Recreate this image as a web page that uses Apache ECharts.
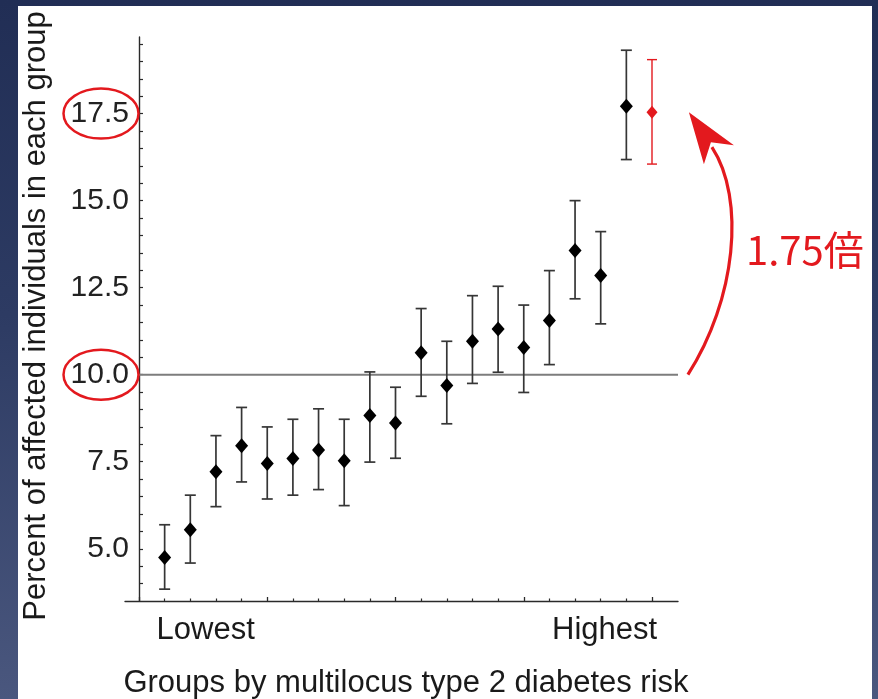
<!DOCTYPE html>
<html>
<head>
<meta charset="utf-8">
<script src="https://cdn.jsdelivr.net/npm/echarts@6/dist/echarts.min.js"></script>
<style>
  html, body { margin: 0; padding: 0; }
  #wrap { position: relative; width: 878px; height: 699px; overflow: hidden;
          background: linear-gradient(to bottom, #212e55 0%, #2d3b63 45%, #4a577e 100%); }
  #panel { position: absolute; left: 18px; top: 6px; width: 854px; height: 693px; background: #ffffff; }
  #c { position: absolute; left: 0; top: 0; width: 878px; height: 699px; }
</style>
</head>
<body>
<div id="wrap"><div id="panel"></div><div id="c"></div></div>
<script>
// ---- data ----
const groups = [1, 2, 3, 4, 5, 6, 7, 8, 9, 10, 11, 12, 13, 14, 15, 16, 17, 18, 19, 20];
const means  = [4.75, 5.55, 7.21, 7.96, 7.45, 7.59, 7.84, 7.53, 8.83, 8.61, 10.63, 9.69, 10.96, 11.31, 10.78, 11.56, 13.57, 12.85, 17.71, 17.54];
const lower  = [3.84, 4.59, 6.21, 6.92, 6.43, 6.54, 6.70, 6.24, 7.49, 7.60, 9.38, 8.59, 9.75, 10.07, 9.49, 10.29, 12.18, 11.46, 16.18, 16.05];
const upper  = [5.69, 6.54, 8.25, 9.06, 8.50, 8.72, 9.02, 8.72, 10.08, 9.64, 11.90, 10.96, 12.27, 12.54, 12.00, 12.99, 15.00, 14.11, 19.32, 19.05];
const highlightGroup = 20;
const refLevel = 10;
const circledTicks = [17.5, 10.0];
const endLabels = ['Lowest', 'Highest'];
const xTitle = 'Groups by multilocus type 2 diabetes risk';
const yTitle = 'Percent of affected individuals in each group';
const ratioLabel = '1.75倍';

const RED = '#e3191e';
const BAR = '#363636';
const FONT = 'Liberation Sans, Arial, sans-serif';

const chart = echarts.init(document.getElementById('c'), null, { renderer: 'canvas' });

const errData = groups.map((g, i) => [g, lower[i], upper[i], g === highlightGroup ? 1 : 0]);
const ptData = groups.map((g, i) => ({
  value: [g, means[i]],
  itemStyle: { color: g === highlightGroup ? RED : '#000000', opacity: 1 }
}));

const option = {
  animation: false,
  backgroundColor: 'transparent',
  grid: [
    { left: 125, right: 200, top: 37, bottom: 98 },
    { left: 139, right: 226, top: 37, bottom: 98 }
  ],
  xAxis: [
    { type: 'value', gridIndex: 0, min: -0.55, max: 21,
      axisLine: { show: true, lineStyle: { color: '#2a2a2a', width: 1.4 } },
      axisTick: { show: false }, axisLabel: { show: false }, splitLine: { show: false } },
    { type: 'value', gridIndex: 1, min: 0, max: 20, interval: 5,
      axisLine: { show: false },
      axisTick: { show: true, inside: true, length: 4, lineStyle: { color: '#2a2a2a', width: 1.3 } },
      minorTick: { show: true, splitNumber: 5, length: 2.5, lineStyle: { color: '#2a2a2a', width: 1.2 } },
      axisLabel: { show: false }, splitLine: { show: false } }
  ],
  yAxis: [
    { type: 'value', gridIndex: 0, min: 3.5, max: 19.7, show: false },
    { type: 'value', gridIndex: 1, min: 3.5, max: 19.7, interval: 0.5,
      axisLine: { show: true, lineStyle: { color: '#2a2a2a', width: 1.4 } },
      axisTick: { show: true, inside: true, length: 4, lineStyle: { color: '#2a2a2a', width: 1.2 } },
      splitLine: { show: false },
      axisLabel: {
        margin: 10, color: '#222', fontSize: 30, fontFamily: FONT,
        showMinLabel: false, showMaxLabel: false,
        formatter: function (v) {
          const k = v / 2.5;
          return Math.abs(k - Math.round(k)) < 1e-6 ? v.toFixed(1) : '';
        }
      } }
  ],
  series: [
    { type: 'line', xAxisIndex: 0, yAxisIndex: 0, data: [[0, refLevel], [21, refLevel]],
      symbol: 'none', silent: true, z: 1,
      lineStyle: { color: '#7d7d7d', width: 2 } },
    { type: 'custom', xAxisIndex: 1, yAxisIndex: 1, data: errData, clip: false, z: 2,
      encode: { x: 0, y: [1, 2] },
      renderItem: function (params, api) {
        const x = api.value(0), lo = api.value(1), hi = api.value(2);
        const red = api.value(3) === 1;
        const a = api.coord([x, lo]), b = api.coord([x, hi]);
        const hw = red ? 5 : 5.5;
        const st = { stroke: red ? RED : BAR, lineWidth: red ? 1.4 : 1.7 };
        return { type: 'group', children: [
          { type: 'line', shape: { x1: a[0], y1: a[1], x2: b[0], y2: b[1] }, style: st },
          { type: 'line', shape: { x1: a[0] - hw, y1: a[1], x2: a[0] + hw, y2: a[1] }, style: st },
          { type: 'line', shape: { x1: b[0] - hw, y1: b[1], x2: b[0] + hw, y2: b[1] }, style: st }
        ] };
      } },
    { type: 'scatter', xAxisIndex: 1, yAxisIndex: 1, data: ptData, symbol: 'diamond',
      symbolSize: function (val) { return val[0] === highlightGroup ? [11, 13] : [13, 15]; },
      itemStyle: { opacity: 1 },
      clip: false, z: 3 }
  ]
};
chart.setOption(option);

// ---- annotations positioned from the axis scales ----
const yPix = v => chart.convertToPixel({ yAxisIndex: 1 }, v);
const xPix = v => chart.convertToPixel({ xAxisIndex: 1 }, v);
const yRef = yPix(refLevel);
const yHi = yPix(means[groups.indexOf(highlightGroup)]);
const x0 = xPix(0), x1 = xPix(1);
const gStep = x1 - x0;
const xStart = xPix(20) + gStep * 1.4;   // arrow column to the right of the last group

const graphics = [];
circledTicks.forEach(v => {
  graphics.push({ type: 'ellipse', shape: { cx: 101, cy: yPix(v), rx: 37.5, ry: 25 },
    style: { fill: 'none', stroke: RED, lineWidth: 2.5 }, z: 10 });
});
// curved arrow from reference level up to the highlighted point
const ax = xStart;
graphics.push({ type: 'bezierCurve',
  shape: { x1: ax, y1: yRef, cpx1: ax + 48, cpy1: yRef - 75, cpx2: ax + 58, cpy2: yHi + 87, x2: ax + 24, y2: yHi + 35 },
  style: { stroke: RED, lineWidth: 3.2, fill: 'none' }, z: 10 });
graphics.push({ type: 'polygon',
  shape: { points: [[ax + 1, yHi], [ax + 46, yHi + 33], [ax + 23, yHi + 30], [ax + 16, yHi + 52]] },
  style: { fill: RED }, z: 10 });
graphics.push({ type: 'text', x: 746, y: 250,
  style: { text: ratioLabel, fill: RED, font: '40px "Noto Sans CJK JP", sans-serif', textAlign: 'left', textVerticalAlign: 'middle' }, z: 10 });
// end labels and axis titles
graphics.push({ type: 'text', x: xPix(groups[0]) + gStep * 1.6, y: 630,
  style: { text: endLabels[0], fill: '#1a1a1a', font: '31px ' + FONT, textAlign: 'center', textVerticalAlign: 'middle' } });
graphics.push({ type: 'text', x: xPix(groups[groups.length - 1]) - gStep * 1.85, y: 630,
  style: { text: endLabels[1], fill: '#1a1a1a', font: '31px ' + FONT, textAlign: 'center', textVerticalAlign: 'middle' } });
graphics.push({ type: 'text', x: 406, y: 683,
  style: { text: xTitle, fill: '#1a1a1a', font: '31px ' + FONT, textAlign: 'center', textVerticalAlign: 'middle' } });
graphics.push({ type: 'text', x: 36.5, y: 316, rotation: Math.PI / 2,
  style: { text: yTitle, fill: '#1a1a1a', font: '31px ' + FONT, textAlign: 'center', textVerticalAlign: 'middle' } });

chart.setOption({ graphic: { elements: graphics } });
</script>
</body>
</html>
